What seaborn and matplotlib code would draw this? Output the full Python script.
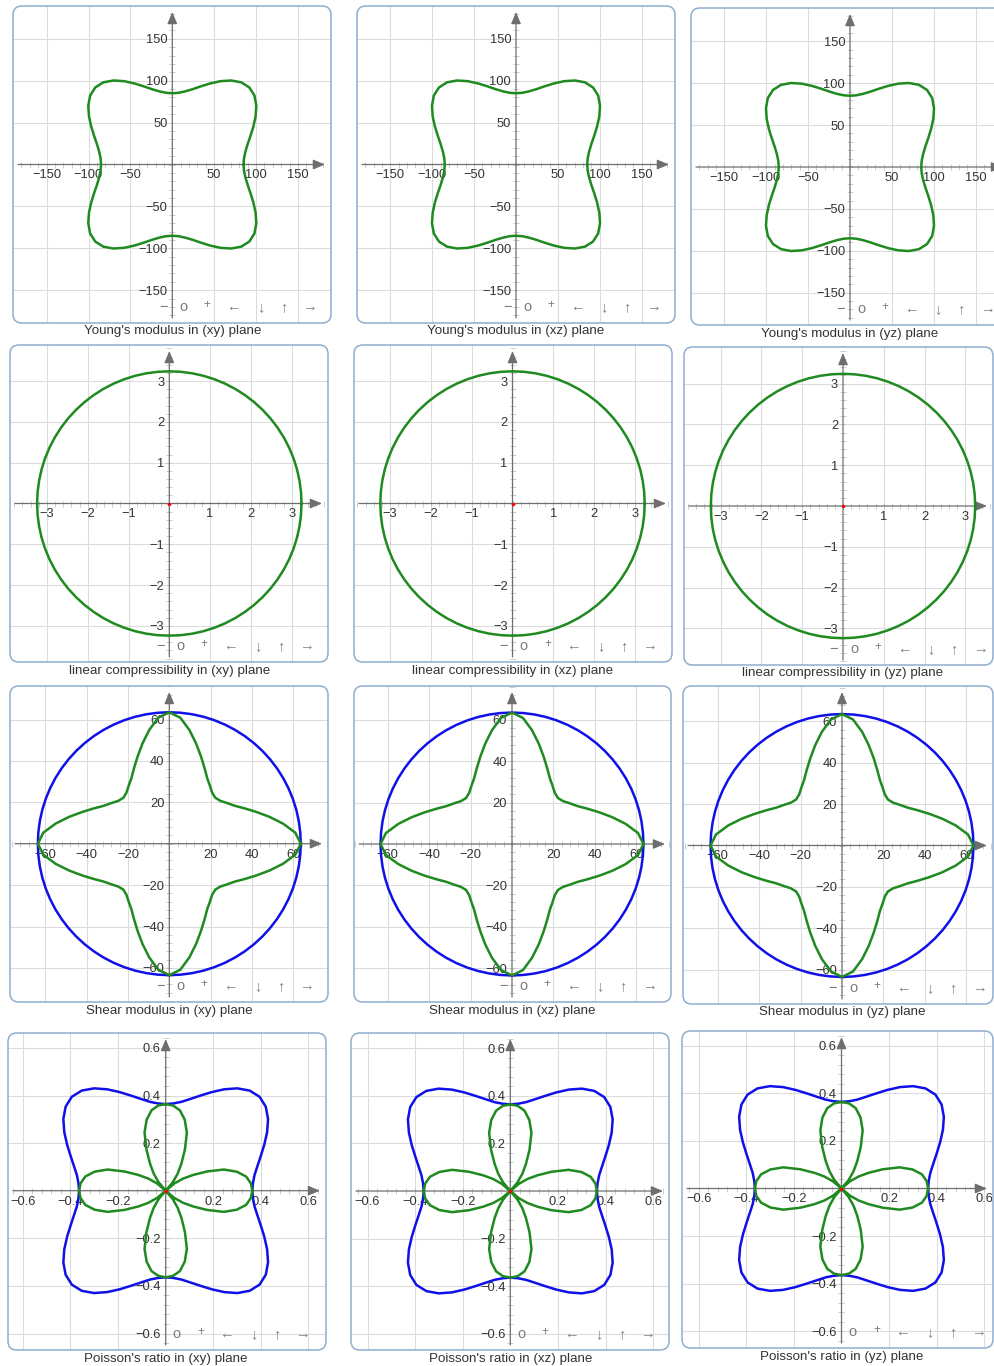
import numpy as np
import matplotlib
matplotlib.use("Agg")
import matplotlib.pyplot as plt
from matplotlib.patches import FancyBboxPatch
from matplotlib.ticker import FixedLocator, MultipleLocator
import seaborn as sns

sns.set_theme(style="white")
plt.rcParams["font.family"] = ["Liberation Sans", "DejaVu Sans"]
plt.rcParams["axes.unicode_minus"] = True

W, H = 995, 1366

# direction angles of the first quadrant (deg); curves have cubic symmetry
ANGLES_Q1 = [0, 5, 10, 15, 20, 25, 30, 35, 40, 45, 50, 55, 60, 65, 70, 75, 80, 85, 90]

# radius, first quadrant
YOUNG_R = [85.0, 85.9, 88.6, 93.0, 99.2, 106.7, 114.8, 122.4, 128.0, 130.0,
           128.0, 122.4, 114.8, 106.7, 99.2, 93.0, 88.6, 85.9, 85.0]
COMPRESS_R = [3.24, 3.24, 3.24, 3.24, 3.24, 3.24, 3.24, 3.24, 3.24, 3.24,
              3.24, 3.24, 3.24, 3.24, 3.24, 3.24, 3.24, 3.24, 3.24]
SHEAR_MAX_R = [63.5, 63.5, 63.5, 63.5, 63.5, 63.5, 63.5, 63.5, 63.5, 63.5,
               63.5, 63.5, 63.5, 63.5, 63.5, 63.5, 63.5, 63.5, 63.5]
SHEAR_MIN_R = [63.5, 61.1, 55.8, 50.1, 44.8, 40.3, 36.6, 34.2, 32.2, 31.4,
               32.2, 34.2, 36.6, 40.3, 44.8, 50.1, 55.8, 61.1, 63.5]
POISSON_MAX_R = [0.364, 0.368, 0.379, 0.399, 0.425, 0.457, 0.492, 0.525, 0.549, 0.558,
                 0.549, 0.525, 0.492, 0.457, 0.425, 0.399, 0.379, 0.368, 0.364]
POISSON_MIN_R = [0.364, 0.359, 0.343, 0.309, 0.260, 0.191, 0.132, 0.088, 0.047, 0.0,
                 0.047, 0.088, 0.132, 0.191, 0.260, 0.309, 0.343, 0.359, 0.364]

YOUNG_TICKS = [-150, -100, -50, 50, 100, 150]
YOUNG_LABELS = ["−150", "−100", "−50", "50", "100", "150"]
COMPRESS_TICKS = [-3, -2, -1, 1, 2, 3]
COMPRESS_LABELS = ["−3", "−2", "−1", "1", "2", "3"]
SHEAR_TICKS = [-60, -40, -20, 20, 40, 60]
SHEAR_LABELS = ["−60", "−40", "−20", "20", "40", "60"]
POISSON_TICKS = [-0.6, -0.4, -0.2, 0.2, 0.4, 0.6]
POISSON_LABELS = ["−0.6", "−0.4", "−0.2", "0.2", "0.4", "0.6"]

# red marker drawn at the centre of some plots
CENTER_X = [0.0]
CENTER_Y = [0.0]

PLANES = ["xy", "xz", "yz"]

GREEN = "#1f8a1f"
BLUE = "#1010e8"

ROWS = [
    dict(name="Young's modulus", curves=[(YOUNG_R, GREEN)], ticks=YOUNG_TICKS,
         labels=YOUNG_LABELS, minor=10, scale=0.838, dot=False, minus_tool=True),
    dict(name="linear compressibility", curves=[(COMPRESS_R, GREEN)], ticks=COMPRESS_TICKS,
         labels=COMPRESS_LABELS, minor=0.2, scale=40.8, dot=True, minus_tool=True),
    dict(name="Shear modulus", curves=[(SHEAR_MAX_R, BLUE), (SHEAR_MIN_R, GREEN)], ticks=SHEAR_TICKS,
         labels=SHEAR_LABELS, minor=4, scale=2.07, dot=False, minus_tool=True),
    # here the toolbar "−" sits under the −0.6 tick label
    dict(name="Poisson's ratio", curves=[(POISSON_MAX_R, BLUE), (POISSON_MIN_R, GREEN)], ticks=POISSON_TICKS,
         labels=POISSON_LABELS, minor=0.04, scale=238.0, dot=True, minus_tool=False),
]

# panel boxes in pixels: left, right, top, bottom, origin x, origin y
BOXES = [
    [(13, 331, 6, 323, 172.3, 164.5), (357, 675, 6, 323, 516.0, 164.5), (691, 1009, 8, 325, 850.0, 167.0)],
    [(10, 328, 345, 662, 169.3, 503.5), (354, 672, 345, 662, 512.5, 503.5), (684, 993, 347, 665, 843.0, 506.0)],
    [(10, 328, 686, 1002, 169.3, 843.7), (354, 671, 686, 1002, 512.0, 844.0), (683, 993, 686, 1004, 842.0, 845.5)],
    [(8, 326, 1033, 1350, 165.7, 1190.7), (351, 669, 1033, 1350, 510.3, 1191.0), (682, 993, 1031, 1348, 841.5, 1188.5)],
]
CAPTION_Y = [[331, 331, 334], [671, 671, 673], [1011, 1011, 1012], [1359, 1359, 1357]]

TOOL_GLYPHS = ["−", "o", "+", "←", "↓", "↑", "→"]
TOOL_DX = [-9, 11, 35, 61, 88, 111, 137]


def closed_curve(r_q1):
    a = np.array(ANGLES_Q1, dtype=float)
    r = np.array(r_q1, dtype=float)
    th = np.concatenate([a, 180 - a[-2::-1], 180 + a[1:], 360 - a[-2::-1]])
    rr = np.concatenate([r, r[-2::-1], r[1:], r[-2::-1]])
    th = np.deg2rad(th)
    return rr * np.cos(th), rr * np.sin(th)


fig = plt.figure(figsize=(W / 100, H / 100), dpi=100)
fig.patch.set_facecolor("white")

for i, row in enumerate(ROWS):
    for j, plane in enumerate(PLANES):
        left, right, top, bottom, ox, oy = BOXES[i][j]
        s = row["scale"]
        ax = fig.add_axes([left / W, 1 - bottom / H, (right - left) / W, (bottom - top) / H])
        ax.set_xlim((left - ox) / s, (right - ox) / s)
        ax.set_ylim((oy - bottom) / s, (oy - top) / s)
        ax.set_facecolor("white")

        # axes through the origin
        for sp in ax.spines.values():
            sp.set_visible(False)
        ax.spines["bottom"].set_position(("data", 0))
        ax.spines["left"].set_position(("data", 0))
        ax.xaxis.set_major_locator(FixedLocator(row["ticks"]))
        ax.yaxis.set_major_locator(FixedLocator(row["ticks"]))
        ax.set_xticklabels(row["labels"])
        ax.set_yticklabels(row["labels"])
        ax.xaxis.set_minor_locator(MultipleLocator(row["minor"]))
        ax.yaxis.set_minor_locator(MultipleLocator(row["minor"]))
        ax.tick_params(which="both", direction="inout", length=4, width=0.6, color="#c4c4c4",
                       labelsize=9.3, labelcolor="#333333", pad=1.5)
        ax.tick_params(axis="x", which="both", bottom=True, top=False)
        ax.tick_params(axis="y", which="both", left=True, right=False)
        ax.grid(True, which="major", color="#dcdcdc", lw=0.8)

        head = dict(arrowstyle="-|>,head_length=0.6,head_width=0.25", color="#6e6e6e",
                    lw=0.9, shrinkA=0, shrinkB=0)
        ax.annotate("", xy=(1 - 6 / (right - left), 0), xytext=(5 / (right - left), 0),
                    xycoords=("axes fraction", "data"), arrowprops=head, zorder=3)
        ax.annotate("", xy=(0, 1 - 6 / (bottom - top)), xytext=(0, 5 / (bottom - top)),
                    xycoords=("data", "axes fraction"), arrowprops=head, zorder=3)

        for r_vals, col in row["curves"]:
            x, y = closed_curve(r_vals)
            sns.lineplot(x=x, y=y, sort=False, estimator=None, color=col, lw=1.8, ax=ax, zorder=4)
        if row["dot"]:
            sns.scatterplot(x=CENTER_X, y=CENTER_Y, color="red", s=6, linewidth=0, ax=ax, zorder=5)
        ax.set_xlabel("")
        ax.set_ylabel("")

        # rounded panel frame, content clipped to it
        frame = FancyBboxPatch((0, 0), 1, 1, boxstyle="round,pad=0,rounding_size=0.028",
                               transform=ax.transAxes, fc="none", ec="#8fadcf", lw=1.1,
                               clip_on=False, zorder=10)
        ax.add_patch(frame)
        for art in ax.lines + ax.collections + ax.get_xgridlines() + ax.get_ygridlines():
            art.set_clip_path(frame)

        # toolbar glyphs along the bottom
        for g, dx in zip(TOOL_GLYPHS, TOOL_DX):
            if g == "−" and not row["minus_tool"]:
                continue
            gy = bottom - 16 - (2 if g == "+" else 0)
            fs = 8.5 if g == "+" else 10.5
            fig.text((ox + dx) / W, 1 - gy / H, g, ha="center", va="center",
                     fontsize=fs, color="#7c7c7c", family=["Liberation Sans", "DejaVu Sans"])

        fig.text(ox / W, 1 - CAPTION_Y[i][j] / H, f"{row['name']} in ({plane}) plane",
                 ha="center", va="center", fontsize=9.6, color="#333333")

fig.savefig("out.png", dpi=100, facecolor="white")
